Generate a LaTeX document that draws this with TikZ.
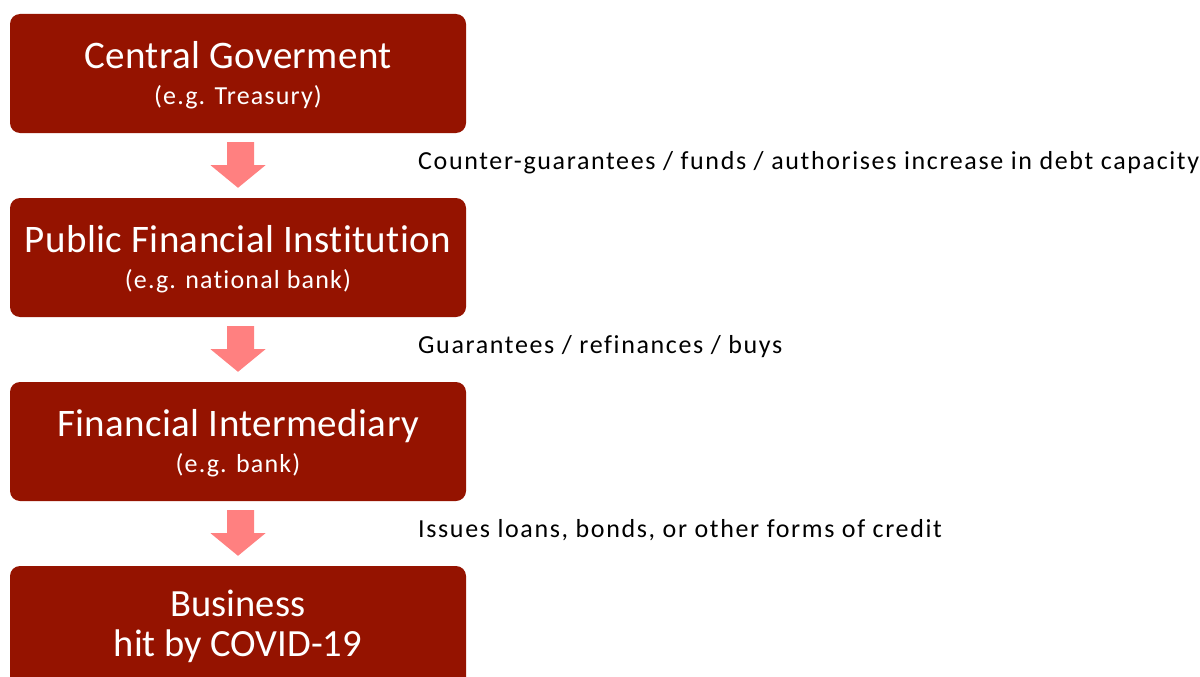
\documentclass[tikz,border=0pt]{standalone}
\usepackage{fontspec}
\setmainfont{Carlito}[Ligatures=NoCommon]
\newfontfamily\titlefont{Carlito}[LetterSpace=1, Ligatures=NoCommon]
\newfontfamily\subfont{Carlito}[LetterSpace=4.5, Ligatures=NoCommon]
\newfontfamily\lblfont{Carlito}[LetterSpace=6.3, Ligatures=NoCommon]
\usetikzlibrary{calc}
\definecolor{boxred}{RGB}{149,19,0}
\definecolor{arrowpink}{RGB}{255,128,128}
\tikzset{
  box/.style={fill=boxred, rounded corners=10pt, minimum width=456pt, minimum height=119pt, inner sep=0pt},
  titletext/.style={anchor=base, text=white, inner sep=0pt, font=\titlefont\fontsize{39}{44}\selectfont},
  bustext/.style={anchor=base, text=white, inner sep=0pt, font=\fontsize{38.5}{44}\selectfont},
  subtext/.style={anchor=base, text=white, inner sep=0pt, font=\subfont\fontsize{26}{30}\selectfont},
  lbl/.style={anchor=base west, inner sep=0pt, font=\lblfont\fontsize{26}{30}\selectfont},
  blockarrow/.style={fill=arrowpink}
}
\newcommand{\blockarr}[2]{%
  \fill[blockarrow] ($(#1.south)+(-11,9)$) -- ($(#1.south)+(16,9)$) -- ($(#1.south)+(16,32)$) -- ($(#1.south)+(27.5,32)$)
   -- ($(#2.north)+(0,-10)$) -- ($(#1.south)+(-27.5,32)$) -- ($(#1.south)+(-11,32)$) -- cycle;}
\begin{document}
\begin{tikzpicture}[x=1pt,y=-1pt]
\useasboundingbox (0,0) rectangle (1200,677);
\clip (0,0) rectangle (1200,677);
\node[box] (b1) at (238,73.5) {};
\node[box] (b2) at (238,257.5) {};
\node[box] (b3) at (238,441.5) {};
\node[box, minimum height=140pt] (b4) at (238,636) {};
\node[titletext] (t1) at ($(b1.north)+(0,55)$) {Central Goverment};
\node[subtext] (s1) at ($(b1.north)+(0,91)$) {(e.g. Treasury)};
\node[titletext] (t2) at ($(b2.north)+(0,55)$) {Public Financial Institution};
\node[subtext] (s2) at ($(b2.north)+(0,91)$) {(e.g. national bank)};
\node[titletext] (t3) at ($(b3.north)+(0,55)$) {Financial Intermediary};
\node[subtext] (s3) at ($(b3.north)+(0,91)$) {(e.g. bank)};
\node[bustext] (t4) at ($(b4.north)+(0,51)$) {Business};
\node[bustext] (s4) at ($(b4.north)+(0,91)$) {hit by COVID-19};
\blockarr{b1}{b2}
\blockarr{b2}{b3}
\blockarr{b3}{b4}
\node[lbl] (l1) at (418,169.5) {Counter-guarantees / funds / authorises increase in debt capacity};
\node[lbl] (l2) at (418,353.5) {Guarantees / refinances / buys};
\node[lbl] (l3) at (418,537.5) {Issues loans, bonds, or other forms of credit};
\end{tikzpicture}
\end{document}
